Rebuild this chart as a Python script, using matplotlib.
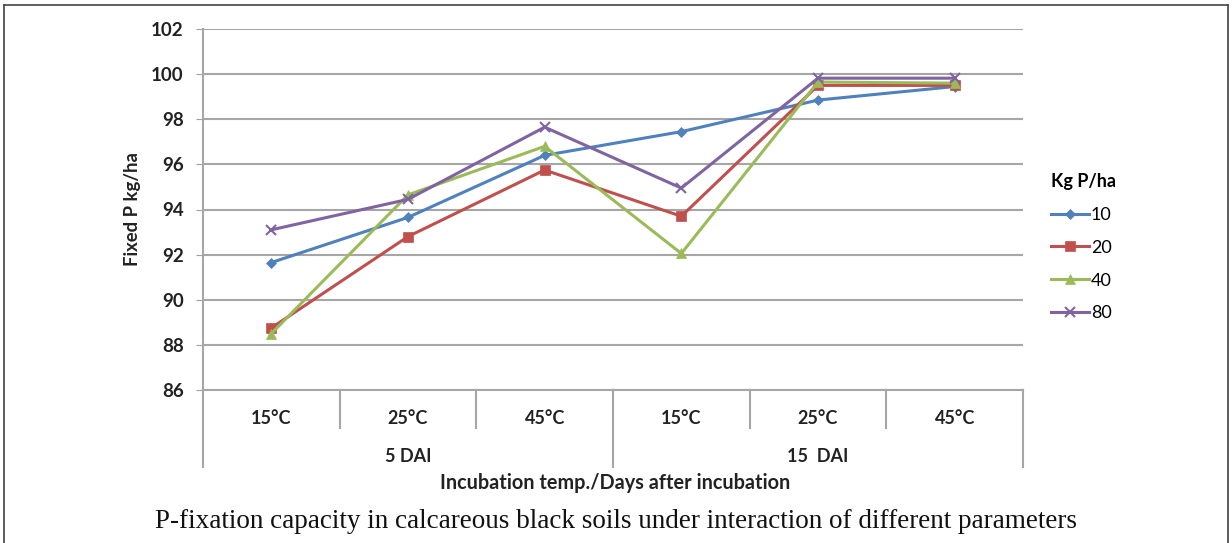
import matplotlib.pyplot as plt
from matplotlib.lines import Line2D

temps = ['15°C', '25°C', '45°C', '15°C', '25°C', '45°C']
groups = ['5 DAI', '15  DAI']
series_names = ['10', '20', '40', '80']
p10 = [91.65, 93.65, 96.4, 97.45, 98.85, 99.45]
p20 = [88.75, 92.8, 95.75, 93.7, 99.5, 99.5]
p40 = [88.5, 94.65, 96.8, 92.05, 99.65, 99.6]
p80 = [93.1, 94.45, 97.65, 94.95, 99.82, 99.82]

colors = ['#4F81BD', '#C0504D', '#9BBB59', '#8064A2']
markers = ['D', 's', '^', 'x']
msizes = [5.5, 7.5, 7.5, 7]

plt.rcParams['font.family'] = ['Lato', 'DejaVu Sans']

fig = plt.figure(figsize=(12.32, 5.43), dpi=100)
W, H = 1232, 543
ax = fig.add_axes([203 / W, 1 - 390 / H, 820 / W, 361 / H])

x = list(range(len(temps)))
for vals, name, c, m, ms in zip([p10, p20, p40, p80], series_names, colors, markers, msizes):
    ax.plot(x, vals, color=c, marker=m, markersize=ms, lw=2.2, label=name,
            markeredgewidth=1.5 if m == 'x' else 0.5, clip_on=False)

ax.set_xlim(-0.5, 5.5)
ax.set_ylim(86, 102)
ax.set_yticks(range(86, 103, 2))
ax.tick_params(axis='y', length=5, color='#A0A0A0', labelsize=13.5, pad=9,
               labelcolor='#222222')
for lab in ax.get_yticklabels():
    lab.set_fontweight('bold')
ax.yaxis.grid(True, color='#A6A6A6', lw=1.5)
ax.set_axisbelow(True)
for s in ['top', 'right']:
    ax.spines[s].set_visible(False)
ax.spines['left'].set_color('#A6A6A6')
ax.spines['bottom'].set_color('#A6A6A6')
ax.spines['left'].set_linewidth(1.5)
ax.spines['bottom'].set_linewidth(1.5)

ax.set_xticks(x)
ax.set_xticklabels([])
ax.tick_params(axis='x', length=0)
tr = ax.get_xaxis_transform()
for xi, t in zip(x, temps):
    ax.text(xi, -0.078, t, transform=tr, ha='center', va='center',
            fontsize=13, fontweight='bold', color='#222222')
for gi, g in enumerate(groups):
    ax.text(gi * 3 + 1, -0.183, g, transform=tr, ha='center', va='center',
            fontsize=13, fontweight='bold', color='#222222')
for b in [-0.5, 0.5, 1.5, 2.5, 3.5, 4.5, 5.5]:
    low = -0.213 if b in (-0.5, 2.5, 5.5) else -0.105
    ax.plot([b, b], [0, low], transform=tr, color='#A6A6A6', lw=1.5, clip_on=False)

ax.set_ylabel('Fixed P kg/ha', fontsize=13.3, fontweight='bold', labelpad=7,
              color='#222222')
fig.text(615 / W, 1 - 483 / H, 'Incubation temp./Days after incubation',
         ha='center', va='center', fontsize=14.3, fontweight='bold', color='#222222')

leg = ax.legend(loc='upper left', bbox_to_anchor=(1044 / W, 1 - 166 / H),
                bbox_transform=fig.transFigure, frameon=False, title='Kg P/ha',
                fontsize=13, handlelength=2.1, handletextpad=0.1,
                labelspacing=0.93, borderaxespad=0)
leg.get_title().set_fontweight('bold')
leg.get_title().set_fontsize(13)
leg._legend_box.align = 'left'

fig.text(616 / W, 1 - 521 / H,
         'P-fixation capacity in calcareous black soils under interaction of different parameters',
         ha='center', va='center', fontsize=19.5, family='Liberation Serif', color='#111111')

# outer frame
for xs, ys in [([4, 4], [5, 543]), ([4, 1228], [5, 5]), ([1228, 1228], [5, 543])]:
    fig.add_artist(Line2D([v / W for v in xs], [1 - v / H for v in ys],
                          color='#444444', lw=1.2))

fig.savefig('out.png', dpi=100)
